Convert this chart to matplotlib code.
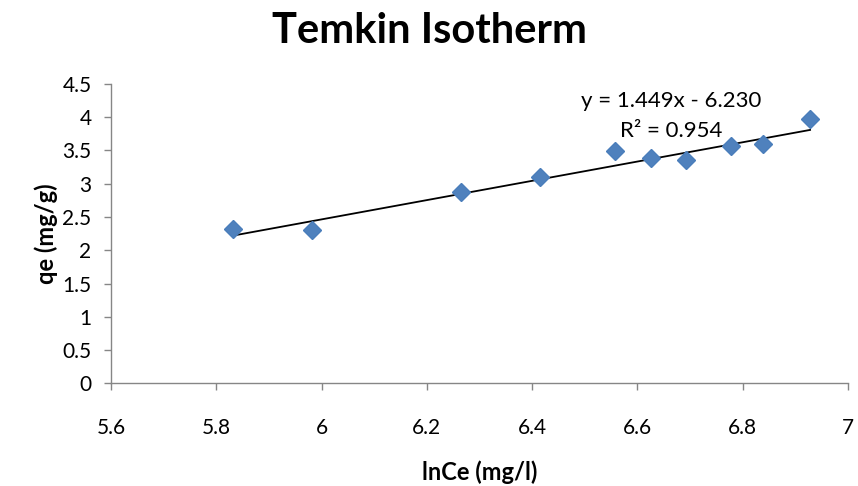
import numpy as np
import matplotlib.pyplot as plt

plt.rcParams['font.family'] = ['Lato', 'DejaVu Sans']

# Temkin isotherm data
ln_ce = [5.831, 5.982, 6.264, 6.415, 6.557, 6.625, 6.692, 6.778, 6.839, 6.928]
qe = [2.318, 2.307, 2.869, 3.10, 3.496, 3.387, 3.350, 3.572, 3.597, 3.974]

# linear trendline
slope = 1.449
intercept = -6.230
r2 = 0.954

x_ticks = [5.6, 5.8, 6.0, 6.2, 6.4, 6.6, 6.8, 7.0]
x_tick_labels = ["5.6", "5.8", "6", "6.2", "6.4", "6.6", "6.8", "7"]
y_ticks = [0, 0.5, 1, 1.5, 2, 2.5, 3, 3.5, 4, 4.5]
y_tick_labels = ["0", "0.5", "1", "1.5", "2", "2.5", "3", "3.5", "4", "4.5"]

fig = plt.figure(figsize=(8.58, 4.86), dpi=100)
ax = fig.add_axes([0.1294, 0.2113, 0.8589, 0.6160])

ax.plot(ln_ce, qe, linestyle="none", marker="D", markersize=9,
        markerfacecolor="#4F81BD", markeredgecolor="#4A7EBB", zorder=3)

xt = np.array([min(ln_ce), max(ln_ce)])
ax.plot(xt, slope * xt + intercept, color="black", linewidth=1.3, zorder=2)

ax.text(6.665, 4.25, f"y = {slope:.3f}x - {abs(intercept):.3f}", ha="center",
        va="center", fontsize=16)
ax.text(6.665, 3.8, f"R² = {r2:.3f}", ha="center", va="center", fontsize=16)

ax.set_xlim(5.6, 7.0)
ax.set_ylim(0, 4.5)
ax.set_xticks(x_ticks)
ax.set_xticklabels(x_tick_labels)
ax.set_yticks(y_ticks)
ax.set_yticklabels(y_tick_labels)
ax.tick_params(axis="both", labelsize=15, color="#868686", length=5, width=1)
ax.tick_params(axis="x", pad=20)
ax.tick_params(axis="y", pad=9)

for side in ["top", "right"]:
    ax.spines[side].set_visible(False)
for side in ["left", "bottom"]:
    ax.spines[side].set_color("#868686")
    ax.spines[side].set_linewidth(1)

ax.set_xlabel("lnCe (mg/l)", fontsize=17, fontweight="bold", labelpad=16)
ax.set_ylabel("qe (mg/g)", fontsize=17, fontweight="bold", labelpad=3)
fig.suptitle("Temkin Isotherm", fontsize=30, fontweight="bold", x=0.5, y=0.975)

fig.savefig("out.png", dpi=100)
